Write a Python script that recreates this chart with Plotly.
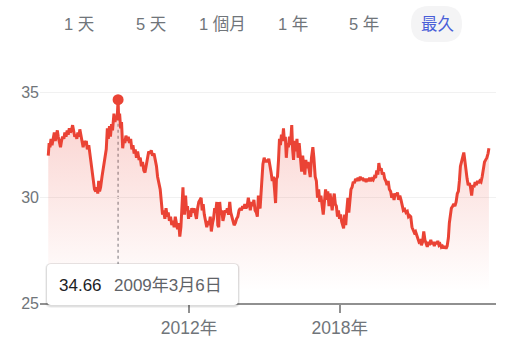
import plotly.graph_objects as go

# ---------------- data ----------------
dates = [
    "2006-05-26", "2006-06-08", "2006-06-20", "2006-07-05", "2006-07-20", "2006-08-08", "2006-08-22", "2006-09-05",
    "2006-09-20", "2006-10-05", "2006-10-18", "2006-11-01", "2006-11-20", "2006-12-05", "2006-12-20",
    "2007-01-08", "2007-01-22", "2007-02-08", "2007-02-25", "2007-03-12", "2007-03-28", "2007-04-12", "2007-04-28",
    "2007-05-15", "2007-05-30", "2007-06-15", "2007-07-01", "2007-07-15", "2007-07-30", "2007-08-15", "2007-08-28",
    "2007-09-12", "2007-09-28", "2007-10-15", "2007-10-30", "2007-11-15", "2007-11-30", "2007-12-15",
    "2008-01-05", "2008-01-20", "2008-02-08", "2008-02-25", "2008-03-12", "2008-03-28", "2008-04-15", "2008-05-01",
    "2008-05-15", "2008-05-28", "2008-06-10", "2008-06-25", "2008-07-15", "2008-08-05", "2008-08-25", "2008-09-15",
    "2008-10-01", "2008-10-15", "2008-11-01", "2008-11-15", "2008-12-01", "2008-12-15",
    "2009-01-05", "2009-01-20", "2009-02-05", "2009-02-20", "2009-03-06", "2009-03-15", "2009-03-28", "2009-04-12",
    "2009-04-25", "2009-05-12", "2009-05-28", "2009-06-12", "2009-06-28", "2009-07-15", "2009-08-01", "2009-08-18",
    "2009-09-05", "2009-09-22", "2009-10-08", "2009-10-25", "2009-11-10", "2009-11-28", "2009-12-15",
    "2010-01-05", "2010-01-22", "2010-02-08", "2010-02-25", "2010-03-15", "2010-04-01", "2010-04-20", "2010-05-08",
    "2010-05-25", "2010-06-12", "2010-07-01", "2010-07-20", "2010-08-10", "2010-08-28", "2010-09-15", "2010-10-01",
    "2010-10-20", "2010-11-08", "2010-11-25", "2010-12-12", "2010-12-28",
    "2011-01-15", "2011-02-01", "2011-02-18", "2011-03-05", "2011-03-22", "2011-04-08", "2011-04-25", "2011-05-12",
    "2011-05-30", "2011-06-15", "2011-07-01", "2011-07-18", "2011-08-05", "2011-08-20", "2011-09-05", "2011-09-20",
    "2011-10-05", "2011-10-15", "2011-10-28", "2011-11-12", "2011-11-25", "2011-12-10", "2011-12-25",
    "2012-01-10", "2012-01-25", "2012-02-10", "2012-02-28", "2012-03-15", "2012-04-01", "2012-04-18", "2012-05-05",
    "2012-05-22", "2012-06-08", "2012-06-25", "2012-07-10", "2012-07-25", "2012-08-10", "2012-08-28", "2012-09-15",
    "2012-10-01", "2012-10-18", "2012-11-05", "2012-11-20", "2012-12-08", "2012-12-22",
    "2013-01-08", "2013-01-22", "2013-02-08", "2013-02-22", "2013-03-08", "2013-03-22", "2013-04-08", "2013-04-22",
    "2013-05-08", "2013-05-25", "2013-06-10", "2013-06-25", "2013-07-10", "2013-07-28", "2013-08-15", "2013-08-30",
    "2013-09-15", "2013-10-01", "2013-10-18", "2013-11-05", "2013-11-22", "2013-12-10", "2013-12-28",
    "2014-01-15", "2014-02-01", "2014-02-18", "2014-03-05", "2014-03-22", "2014-04-08", "2014-04-25", "2014-05-12",
    "2014-05-28", "2014-06-10", "2014-06-28", "2014-07-15", "2014-08-01", "2014-08-18", "2014-09-05", "2014-09-20",
    "2014-10-05", "2014-10-15", "2014-10-30", "2014-11-12", "2014-11-25", "2014-12-10", "2014-12-28",
    "2015-01-15", "2015-02-01", "2015-02-18", "2015-03-05", "2015-03-22", "2015-04-08", "2015-04-25", "2015-05-12",
    "2015-05-28", "2015-06-12", "2015-06-25", "2015-07-10", "2015-07-25", "2015-08-08", "2015-08-22", "2015-09-05",
    "2015-09-20", "2015-10-05", "2015-10-18", "2015-11-01", "2015-11-15", "2015-12-01", "2015-12-15", "2015-12-31",
    "2016-01-15", "2016-02-02", "2016-02-15", "2016-02-28", "2016-03-15", "2016-04-01", "2016-04-18", "2016-05-05",
    "2016-05-20", "2016-06-08", "2016-06-25", "2016-07-10", "2016-07-25", "2016-08-10", "2016-08-25", "2016-09-10",
    "2016-09-25", "2016-10-12", "2016-10-28", "2016-11-15", "2016-12-05", "2016-12-20",
    "2017-01-08", "2017-01-25", "2017-02-10", "2017-02-28", "2017-03-15", "2017-04-01", "2017-04-18", "2017-05-05",
    "2017-05-22", "2017-06-08", "2017-06-25", "2017-07-10", "2017-07-28", "2017-08-12", "2017-08-28", "2017-09-12",
    "2017-09-28", "2017-10-12", "2017-10-28", "2017-11-12", "2017-11-28", "2017-12-12", "2017-12-28",
    "2018-01-12", "2018-01-28", "2018-02-12", "2018-02-25", "2018-03-12", "2018-03-28", "2018-04-12", "2018-04-28",
    "2018-05-12", "2018-05-28", "2018-06-12", "2018-06-28", "2018-07-15", "2018-08-01", "2018-08-18", "2018-09-05",
    "2018-09-22", "2018-10-08", "2018-10-25", "2018-11-12", "2018-11-28", "2018-12-15",
    "2019-01-01", "2019-01-18", "2019-02-05", "2019-02-22", "2019-03-10", "2019-03-28", "2019-04-15", "2019-05-01",
    "2019-05-18", "2019-06-05", "2019-06-22", "2019-07-08", "2019-07-22", "2019-08-08", "2019-08-25", "2019-09-10",
    "2019-09-28", "2019-10-15", "2019-11-01", "2019-11-18", "2019-12-05", "2019-12-22",
    "2020-01-10", "2020-01-25", "2020-02-10", "2020-02-28", "2020-03-15", "2020-04-01", "2020-04-18", "2020-05-05",
    "2020-05-22", "2020-06-08", "2020-06-25", "2020-07-12", "2020-08-01", "2020-08-20", "2020-09-08", "2020-09-25",
    "2020-10-12", "2020-10-28", "2020-11-15", "2020-12-01", "2020-12-18",
    "2021-01-05", "2021-01-22", "2021-02-08", "2021-02-25", "2021-03-15", "2021-04-01", "2021-04-18", "2021-05-05",
    "2021-05-22", "2021-06-08", "2021-06-25", "2021-07-12", "2021-07-28", "2021-08-15", "2021-09-01", "2021-09-18",
    "2021-10-05", "2021-10-22", "2021-11-08", "2021-11-25", "2021-12-12", "2021-12-28",
    "2022-01-15", "2022-02-01", "2022-02-18", "2022-03-08", "2022-03-25", "2022-04-10", "2022-04-28", "2022-05-12",
    "2022-05-25", "2022-06-10", "2022-06-28", "2022-07-15", "2022-08-01", "2022-08-18", "2022-09-05", "2022-09-20",
    "2022-10-05", "2022-10-20", "2022-11-05", "2022-11-20", "2022-12-08", "2022-12-22",
    "2023-01-08", "2023-01-25", "2023-02-10", "2023-02-28", "2023-03-15", "2023-04-01", "2023-04-18", "2023-05-05",
    "2023-05-22", "2023-06-08", "2023-06-25", "2023-07-12", "2023-07-28", "2023-08-15", "2023-09-01", "2023-09-18",
    "2023-10-05", "2023-10-22", "2023-11-08", "2023-11-25", "2023-12-08",
]
prices = [
    32.0, 32.6, 32.4, 32.8, 32.5, 32.9, 33.1, 32.7, 33.0, 33.2, 32.9, 32.7, 32.4, 32.7, 32.9,
    32.8, 33.1, 32.9, 33.2, 33.0, 33.3, 33.1, 33.2, 33.45, 33.1, 32.9, 33.0, 32.8, 33.1, 32.9, 33.25,
    33.0, 32.8, 32.4, 32.7, 32.5, 32.7, 32.3,
    32.5, 32.1, 31.6, 31.0, 30.6, 30.4, 30.3, 30.5, 30.2, 30.8, 30.3, 30.5, 31.0, 31.5, 31.9, 32.3,
    33.3, 32.8, 33.4, 32.9, 33.5, 33.2,
    34.0, 33.6, 33.9, 33.7, 34.66, 33.7, 34.0, 33.3, 33.6, 32.35, 32.8, 32.6, 32.95, 32.7, 32.9, 32.6,
    32.8, 32.3, 32.5, 32.1, 32.3, 31.9, 32.2,
    31.8, 31.9, 31.5, 31.7, 31.3, 31.2, 31.6, 32.0, 32.2, 32.1, 32.25, 32.0, 32.1, 31.8, 31.5, 31.0,
    30.7, 30.4, 29.8, 29.2, 29.4,
    29.0, 29.5, 29.1, 29.3, 28.9, 29.1, 28.7, 28.9, 28.6, 29.1, 28.7, 28.5, 28.8, 28.15, 28.6, 29.3,
    30.5, 29.6, 29.2, 30.1, 29.4, 29.6, 29.0,
    29.4, 29.1, 29.5, 29.3, 29.5, 29.3, 29.0, 29.5, 29.8, 29.9, 30.0, 29.4, 29.7, 29.2, 28.9, 28.6,
    28.9, 28.7, 29.1, 28.4, 28.8, 29.0,
    29.5, 29.3, 29.8, 28.7, 28.6, 29.8, 29.2, 29.4, 28.9, 29.2, 29.4, 29.3, 29.5, 29.2, 29.8, 29.3,
    29.0, 28.9, 28.7, 28.8, 29.0, 29.1, 29.4,
    29.5, 29.4, 29.6, 29.5, 29.7, 29.5, 29.6, 30.0, 29.6, 29.4, 29.8, 29.6, 29.9, 29.4, 29.3, 29.1,
    30.1, 29.6, 29.5, 30.4, 31.0, 31.6, 31.9,
    31.7, 31.8, 31.7, 31.85, 31.4, 31.2, 30.8, 31.0, 30.4, 29.75, 30.9, 31.0, 31.8, 32.8, 32.5, 33.0,
    32.7, 33.3, 32.7, 32.9, 31.9, 32.6, 32.4, 32.9,
    32.5, 33.45, 32.3, 31.8, 32.7, 32.2, 32.8, 31.9, 32.6, 31.7, 31.24, 32.0, 31.5, 31.1, 31.8, 31.4,
    31.7, 31.2, 30.98, 31.9, 32.4, 31.9,
    31.0, 30.8, 30.0, 30.4, 29.8, 30.1, 29.6, 29.2, 29.8, 30.4, 29.9, 30.3, 29.6, 30.2, 29.8, 29.4,
    29.9, 30.2, 29.7, 29.6, 29.1, 29.4, 29.0,
    29.2, 28.86, 28.6, 28.55, 29.2, 28.7, 29.4, 30.0, 29.3, 29.8, 30.4, 30.5, 30.76, 30.7, 30.9, 30.8,
    30.95, 30.8, 31.0, 30.85, 30.95, 30.8,
    30.9, 30.75, 30.9, 30.8, 30.95, 30.8, 30.9, 30.85, 31.0, 30.95, 31.3, 31.1, 31.65, 31.3, 31.4, 31.1,
    31.2, 30.9, 30.8, 30.6, 30.8, 30.4,
    30.3, 30.0, 30.2, 29.9, 30.2, 30.1, 30.25, 29.9, 30.1, 29.9, 29.7, 29.4, 29.45, 29.3, 29.35, 29.1,
    29.15, 29.1, 28.6, 28.5, 28.35,
    28.4, 28.2, 28.0, 27.9, 27.95, 27.75, 27.9, 28.4, 28.0, 27.8, 27.67, 27.9, 27.75, 28.0, 27.8, 27.9,
    27.7, 27.9, 27.8, 27.95, 27.75, 27.8,
    27.65, 27.7, 27.6, 27.7, 27.58, 27.7, 28.1, 28.8, 29.2, 29.5, 29.6, 29.7, 29.6, 29.8, 30.2, 30.3,
    30.8, 31.5, 31.7, 32.0, 32.15, 31.8,
    31.2, 30.9, 30.6, 30.7, 30.5, 30.1, 30.6, 30.5, 30.75, 30.6, 30.8, 30.7, 30.8, 30.75, 31.0, 31.4,
    31.7, 31.8, 31.9, 32.1, 32.35,
]
assert len(dates) == len(prices)

range_buttons = ["1 天", "5 天", "1 個月", "1 年", "5 年", "最久"]
selected_button = "最久"
x_tick_vals = ["2012-01-01", "2018-01-01"]
x_tick_text = ["2012年", "2018年"]
y_tick_vals = [25, 30, 35]
y_range = [25, 35.5]
x_range = ["2006-01-26", "2024-03-20"]

# ---------------- style ----------------
W, H = 510, 349
ML, MR, MT, MB = 40, 14, 82, 46
PW, PH = W - ML - MR, H - MT - MB
LINE = "#ea4335"
GRAY_TXT = "#70757a"
FONT = "Arial, 'Liberation Sans', 'Noto Sans CJK TC', sans-serif"


def fx(px):
    return (px - ML) / PW


def fy(py):
    return (H - MB - py) / PH


def rounded(x0, y0, x1, y1, r):
    pts = [
        ("M", [(x0 + r, y0)]), ("L", [(x1 - r, y0)]), ("Q", [(x1, y0), (x1, y0 + r)]),
        ("L", [(x1, y1 - r)]), ("Q", [(x1, y1), (x1 - r, y1)]), ("L", [(x0 + r, y1)]),
        ("Q", [(x0, y1), (x0, y1 - r)]), ("L", [(x0, y0 + r)]), ("Q", [(x0, y0), (x0 + r, y0)]),
    ]
    s = ""
    for cmd, ps in pts:
        s += cmd + " " + " ".join(f"{fx(a):.5f},{fy(b):.5f}" for a, b in ps) + " "
    return s + "Z"


peak_i = max(range(len(prices)), key=lambda i: prices[i])
peak_date, peak_val = dates[peak_i], prices[peak_i]
py_, pm_, pd_ = (int(v) for v in peak_date.split("-"))

fig = go.Figure()
fig.add_trace(go.Scatter(
    x=dates, y=prices, mode="lines",
    line=dict(color=LINE, width=3),
    fill="tozeroy",
    fillgradient=dict(type="vertical", start=25.6, stop=35.0,
                      colorscale=[[0, "rgba(234,67,53,0.0)"], [1, "rgba(234,67,53,0.26)"]]),
    hoverinfo="skip",
))
fig.add_trace(go.Scatter(
    x=[peak_date], y=[peak_val], mode="markers",
    marker=dict(color=LINE, size=11), hoverinfo="skip",
))

shapes = []
shapes.append(dict(type="line", xref="x", yref="y", x0=peak_date, x1=peak_date,
                   y0=peak_val, y1=25 + (H - MB - 264) / PH * (y_range[1] - y_range[0]),
                   line=dict(color="#a0a4a8", width=1.5, dash="dot"), layer="below"))
shapes.append(dict(type="path", xref="paper", yref="paper", path=rounded(411, 6, 462, 42, 18),
                   fillcolor="#f4f4f5", line=dict(width=0), layer="above"))
shapes.append(dict(type="path", xref="paper", yref="paper", path=rounded(45, 263, 240, 308, 6),
                   fillcolor="rgba(0,0,0,0.05)", line=dict(width=0), layer="above"))
shapes.append(dict(type="path", xref="paper", yref="paper", path=rounded(46, 263.5, 239, 306.8, 5),
                   fillcolor="rgba(0,0,0,0.09)", line=dict(width=0), layer="above"))
shapes.append(dict(type="path", xref="paper", yref="paper", path=rounded(47, 264, 238, 305, 4),
                   fillcolor="#ffffff", line=dict(width=0), layer="above"))

annotations = []
button_centers = [79, 150.5, 222, 293, 364, 437]
for label, cx in zip(range_buttons, button_centers):
    annotations.append(dict(
        text=label, x=fx(cx), y=fy(23.5), xref="paper", yref="paper",
        xanchor="center", yanchor="middle", showarrow=False,
        font=dict(family=FONT, size=16.5,
                  color="#4a5fd8" if label == selected_button else GRAY_TXT),
    ))
annotations.append(dict(
    text=f"{peak_val:.2f}", x=fx(57), y=fy(285), xref="paper", yref="paper",
    xanchor="left", yanchor="middle", showarrow=False,
    font=dict(family=FONT, size=17, color="#202124"),
))
annotations.append(dict(
    text=f"{py_}年{pm_}月{pd_}日", x=fx(112), y=fy(285), xref="paper", yref="paper",
    xanchor="left", yanchor="middle", showarrow=False,
    font=dict(family=FONT, size=17, color="#5f6368"),
))

fig.update_layout(
    width=W, height=H,
    margin=dict(l=ML, r=MR, t=MT, b=MB, pad=0),
    paper_bgcolor="white", plot_bgcolor="white",
    showlegend=False, hovermode=False,
    font=dict(family=FONT, color=GRAY_TXT),
    shapes=shapes, annotations=annotations,
    xaxis=dict(
        type="date", range=x_range, tickvals=x_tick_vals, ticktext=x_tick_text,
        showgrid=False, zeroline=False, showline=True, linecolor="#909090", linewidth=2,
        ticks="outside", ticklen=8, tickwidth=2, tickcolor="#909090",
        tickfont=dict(family=FONT, size=17.5, color=GRAY_TXT),
    ),
    yaxis=dict(
        range=y_range, tickvals=y_tick_vals, showgrid=True, gridcolor="#f1f1f1", gridwidth=1,
        zeroline=False, showline=False, ticks="",
        tickfont=dict(family=FONT, size=16, color=GRAY_TXT),
    ),
)

fig.write_html("out.html")
